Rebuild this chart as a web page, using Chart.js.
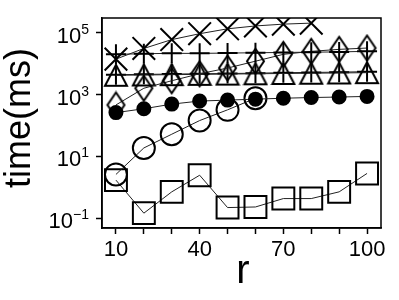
<!DOCTYPE html>
<html>
<head>
<meta charset="utf-8">
<script src="https://cdn.jsdelivr.net/npm/chart.js@4.4.0/dist/chart.umd.min.js"></script>
<style>
  html, body { margin: 0; padding: 0; background: #fff; }
</style>
</head>
<body>
<canvas id="timeChart" width="399" height="300"></canvas>
<script>
// Valores (r = 10..100)
const rValues = [10, 20, 30, 40, 50, 60, 70, 80, 90, 100];
const xTickValues = [10, 20, 30, 40, 50, 60, 70, 80, 90, 100];
const xTickLabels = [10, 40, 70, 100];
const yTickValues = [0.1, 10, 1000, 100000];
const yTickExponents = ['\u22121', '1', '3', '5'];

const serieCruz     = [14000, 31000, 60000, 93000, 134000, 166000, 190000, 205000, null, null];
const seriePlus     = [20000, 21000, 21500, 21500, 22000, 22500, 23000, 23500, 24000, 25000];
const serieRombo    = [460, 1600, 2800, 4700, 7200, 12000, 20000, 25000, 29000, 32000];
const serieTriangulo = [4200, 4300, 4400, 4500, 4600, 4700, 4800, 4900, 5000, 5100];
const seriePlus2    = [4400, 4500, 4600, 4700, 4800, 4900, 5100, 5200, 5300, 5500];
const serieLleno    = [260, 347, 490, 616, 660, 710, 760, 800, 830, 870];
const serieCirculo  = [2.6, 18.7, 52, 144, 320, 760, null, null, null, null];
const serieCuadrado = [1.7, 0.145, 0.71, 2.45, 0.22, 0.23, 0.43, 0.43, 0.71, 2.8];

// Marcadores propios (rombo fino y triángulo centrado en su caja)
function marcador(w, h, dibujar) {
    const lw = 2;
    const c = document.createElement('canvas');
    c.width = w + lw * 2;
    c.height = h + lw * 2;
    const g = c.getContext('2d');
    g.strokeStyle = '#000';
    g.lineWidth = lw;
    g.beginPath();
    dibujar(g, lw, lw, w, h);
    g.closePath();
    g.stroke();
    return c;
}
const rombo = marcador(17, 25, (g, x, y, w, h) => {
    g.moveTo(x + w / 2, y);
    g.lineTo(x + w, y + h / 2);
    g.lineTo(x + w / 2, y + h);
    g.lineTo(x, y + h / 2);
});
const triangulo = marcador(22, 21, (g, x, y, w, h) => {
    g.moveTo(x + w / 2, y);
    g.lineTo(x + w, y + h);
    g.lineTo(x, y + h);
});

function serie(data, estilo, radio, relleno) {
    return {
        data: data,
        borderColor: '#222',
        borderWidth: 1,
        pointStyle: estilo,
        pointRadius: radio,
        pointHoverRadius: radio,
        pointBorderColor: '#000',
        pointBorderWidth: 2,
        pointBackgroundColor: relleno ? '#000' : 'transparent',
        fill: false,
        tension: 0,
        spanGaps: false,
        clip: 0
    };
}

const marcoYTextos = {
    id: 'marcoYTextos',
    afterDraw(chart) {
        const { ctx, chartArea: a, scales } = chart;
        ctx.save();
        ctx.strokeStyle = '#000';
        ctx.lineWidth = 1.5;
        ctx.strokeRect(a.left, a.top, a.right - a.left, a.bottom - a.top);

        ctx.fillStyle = '#000';
        ctx.textBaseline = 'alphabetic';
        yTickValues.forEach((v, i) => {
            const y = scales.y.getPixelForValue(v);
            ctx.font = '14px "Liberation Sans"';
            ctx.textAlign = 'right';
            const exp = yTickExponents[i];
            ctx.fillText(exp, 89, y + 1);
            const ancho = ctx.measureText(exp).width;
            ctx.font = '22px "Liberation Sans"';
            ctx.fillText('10', 89 - ancho, y + 10);
        });

        ctx.textAlign = 'center';
        ctx.textBaseline = 'alphabetic';
        ctx.font = '40px "Liberation Sans"';
        ctx.fillText('r', 243, 283);
        ctx.font = '36px "Liberation Sans"';
        ctx.textBaseline = 'middle';
        ctx.translate(20, 118);
        ctx.rotate(-Math.PI / 2);
        ctx.fillText('time(ms)', 0, 0);
        ctx.restore();
    }
};

const ctxTime = document.getElementById('timeChart').getContext('2d');
window.graficoTiempo = new Chart(ctxTime, {
    type: 'line',
    data: {
        labels: rValues,
        datasets: [
            serie(serieCruz, 'crossRot', 16, false),
            serie(seriePlus, 'cross', 10, false),
            serie(serieRombo, rombo, 10, false),
            serie(serieTriangulo, triangulo, 10, false),
            serie(seriePlus2, 'cross', 10, false),
            serie(serieLleno, 'circle', 6.5, true),
            serie(serieCirculo, 'circle', 11, false),
            serie(serieCuadrado, 'rect', 15.5, false)
        ]
    },
    options: {
        responsive: false,
        animation: false,
        layout: { padding: { left: 0, right: 13, top: 13, bottom: 0 } },
        plugins: { legend: { display: false }, tooltip: { enabled: false } },
        scales: {
            x: {
                type: 'linear',
                min: 5,
                max: 105,
                afterBuildTicks: (s) => { s.ticks = xTickValues.map(v => ({ value: v })); },
                afterFit: (s) => { s.height = 72; },
                grid: { drawOnChartArea: false, drawTicks: true, tickLength: 6, color: '#000', tickWidth: 1.5 },
                border: { color: '#000', width: 1.5 },
                ticks: {
                    color: '#000',
                    padding: 3,
                    maxRotation: 0,
                    autoSkip: false,
                    font: { family: 'Liberation Sans', size: 22 },
                    callback: (v) => xTickLabels.includes(v) ? String(v) : ''
                }
            },
            y: {
                type: 'logarithmic',
                min: 0.048,
                max: 300000,
                afterBuildTicks: (s) => { s.ticks = yTickValues.map(v => ({ value: v })); },
                afterFit: (s) => { s.width = 102; },
                grid: { drawOnChartArea: false, drawTicks: true, tickLength: 6, color: '#000', tickWidth: 1.5 },
                border: { color: '#000', width: 1.5 },
                ticks: { callback: () => '' }
            }
        }
    },
    plugins: [marcoYTextos]
});
</script>
</body>
</html>
